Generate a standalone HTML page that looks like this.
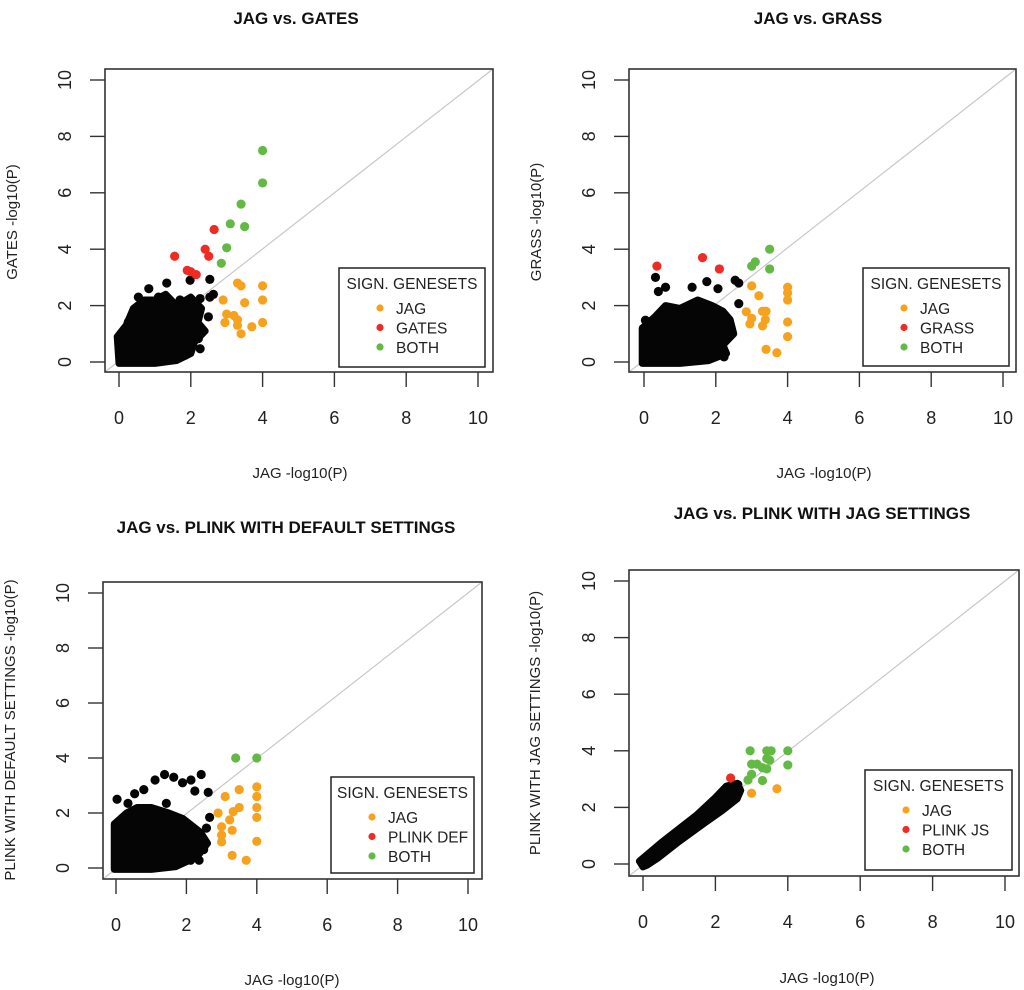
<!DOCTYPE html>
<html><head><meta charset="utf-8">
<style>
body{margin:0;background:#fff;}
svg{display:block;font-family:"Liberation Sans",Arial,sans-serif;}
</style></head>
<body>
<svg id="chart" width="1024" height="990" viewBox="0 0 1024 990" xmlns="http://www.w3.org/2000/svg"></svg>
<script>
// ---------- Data ----------
const xTicks = [0, 2, 4, 6, 8, 10];
const yTicks = [0, 2, 4, 6, 8, 10];
const legendLabels = ["JAG", "GATES", "GRASS", "PLINK DEF", "PLINK JS", "BOTH"];

// Panel 1: JAG vs GATES
const p1Orange = [[3.3,2.8],[3.4,2.7],[4,2.7],[2.9,2.2],[4,2.2],[3.5,2.1],[3.0,1.7],[3.2,1.65],[2.95,1.4],[3.3,1.5],[3.3,1.3],[3.7,1.25],[4,1.4],[3.4,1.0]];
const p1Red = [[1.55,3.75],[2.4,4.0],[2.5,3.75],[2.65,4.7],[1.9,3.25],[2.0,3.2],[2.15,3.1]];
const p1Green = [[4,7.5],[4,6.35],[3.4,5.6],[3.1,4.9],[3.5,4.8],[3.0,4.05],[2.85,3.5]];
const p1Black = [[2.53,2.93],[1.98,2.9],[1.33,2.8],[0.83,2.6],[0.54,2.3],[1.1,2.3],[2.26,2.25],[2.53,2.3],[2.63,2.4],[2.49,1.6],[2.21,0.83],[2.26,0.47],[1.84,0.24],[0.26,1.42],[1.7,2.2],[1.5,1.6]];
const p1Cloud = [[0,-0.05],[-0.05,0.9],[0.2,1.3],[0.4,1.9],[0.7,2.2],[1.0,2.2],[1.3,2.4],[1.6,2.0],[2.0,2.3],[2.3,1.9],[2.2,1.4],[2.4,1.1],[2.1,0.7],[2.0,0.3],[1.6,0.05],[1.0,-0.05]];

// Panel 2: JAG vs GRASS
const p2Orange = [[3.0,2.7],[3.2,2.35],[4,2.65],[4,2.45],[4,2.2],[2.85,1.78],[3.0,1.55],[2.95,1.35],[3.3,1.8],[3.4,1.8],[3.38,1.5],[3.3,1.28],[4,1.42],[4,0.9],[3.4,0.45],[3.7,0.33]];
const p2Red = [[0.36,3.4],[1.63,3.7],[2.1,3.3]];
const p2Green = [[3.5,4.0],[3.1,3.55],[3.0,3.4],[3.5,3.3]];
const p2Black = [[0.32,3.0],[0.4,2.5],[0.6,2.65],[1.34,2.65],[1.75,2.85],[2.06,2.6],[2.54,2.9],[2.64,2.8],[2.64,2.07],[2.27,1.48],[2.16,0.53],[2.23,0.18],[0.04,1.48]];
const p2Cloud = [[-0.05,-0.05],[-0.05,1.2],[0.3,1.6],[0.6,2.0],[1.0,1.9],[1.5,2.2],[1.9,2.0],[2.2,1.8],[2.4,1.5],[2.5,1.0],[2.2,0.6],[2.3,0.3],[1.8,0.05],[1.0,-0.05]];

// Panel 3: JAG vs PLINK default
const p3Orange = [[3.5,2.85],[4,2.95],[4,2.6],[3.1,2.6],[4,2.2],[3.5,2.2],[3.33,2.05],[2.9,2.0],[3.23,1.75],[4,1.84],[3.0,1.5],[3.0,1.2],[3.3,1.37],[3.0,0.95],[4,0.97],[3.3,0.46],[3.7,0.28]];
const p3Red = [];
const p3Green = [[3.4,4.0],[4,4.0]];
const p3Black = [[2.42,3.4],[1.38,3.4],[1.64,3.3],[1.11,3.2],[1.89,3.1],[2.13,3.2],[0.79,2.85],[0.53,2.7],[0.03,2.5],[2.24,2.8],[2.62,2.75],[2.66,1.84],[2.57,1.45],[2.49,0.67],[2.12,0.28],[2.36,0.28],[0.34,2.35],[1.43,2.35]];
const p3Cloud = [[-0.05,-0.05],[-0.05,1.6],[0.3,2.0],[0.6,2.2],[1.0,2.2],[1.5,2.0],[1.9,1.8],[2.4,1.3],[2.6,0.9],[2.3,0.4],[1.7,0.05],[1.0,-0.05]];

// Panel 4: JAG vs PLINK JAG settings
const p4Orange = [[3.0,2.5],[3.7,2.66]];
const p4Red = [[2.42,3.04]];
const p4Green = [[2.96,4.0],[3.42,4.0],[3.54,4.0],[4,4.0],[3.42,3.73],[3.5,3.67],[3.0,3.53],[3.15,3.53],[4,3.5],[3.3,3.4],[3.42,3.36],[3.0,3.17],[2.9,2.97],[3.3,2.95]];
const p4Black = [[2.62,2.8],[2.3,2.1]];
const p4Cloud = [[0,-0.1],[-0.1,0.1],[0.5,0.75],[1.0,1.25],[1.5,1.75],[2.0,2.35],[2.3,2.75],[2.6,2.85],[2.7,2.6],[2.6,2.3],[2.3,2.0],[2.2,1.9],[1.7,1.45],[1.0,0.8],[0.4,0.2],[0.1,-0.05]];

// ---------- Layout ----------
const panels = [
 {id:"gates", title:"JAG vs. GATES", tx:296, ty:18, box:[105,69,493,372], x0:119,x10:478,y0:362,y10:80,
  ylab:"GATES -log10(P)", ylx:12, yly:222, xlx:300, xly:473, leg:[339,268,485,367], red:"GATES",
  o:p1Orange,r:p1Red,g:p1Green,b:p1Black,c:p1Cloud},
 {id:"grass", title:"JAG vs. GRASS", tx:818, ty:18, box:[629,69,1016,372], x0:644,x10:1003,y0:362,y10:80,
  ylab:"GRASS -log10(P)", ylx:536, yly:222, xlx:824, xly:473, leg:[863,268,1009,366], red:"GRASS",
  o:p2Orange,r:p2Red,g:p2Green,b:p2Black,c:p2Cloud},
 {id:"plink-default", title:"JAG vs. PLINK WITH DEFAULT SETTINGS", tx:286, ty:527, box:[103,582,482,879], x0:116,x10:468,y0:868,y10:593,
  ylab:"PLINK WITH DEFAULT SETTINGS -log10(P)", ylx:10, yly:730, xlx:292, xly:980, leg:[331,777,474,873], red:"PLINK DEF",
  o:p3Orange,r:p3Red,g:p3Green,b:p3Black,c:p3Cloud},
 {id:"plink-jag", title:"JAG vs. PLINK WITH JAG SETTINGS", tx:822, ty:513, box:[629,570,1019,876], x0:643,x10:1005,y0:864,y10:581,
  ylab:"PLINK WITH JAG SETTINGS -log10(P)", ylx:535, yly:723, xlx:827, xly:978, leg:[865,770,1012,870], red:"PLINK JS",
  o:p4Orange,r:p4Red,g:p4Green,b:p4Black,c:p4Cloud}
];

const NS="http://www.w3.org/2000/svg";
const svg=document.getElementById("chart");
function mk(tag,attrs,parent){const e=document.createElementNS(NS,tag);for(const k in attrs)e.setAttribute(k,attrs[k]);(parent||svg).appendChild(e);return e;}
const ORANGE="#f7a21e", RED="#ee2c24", GREEN="#62ba44";

panels.forEach(p=>{
  const g=mk("g",{});
  
  
  const sx=v=>p.x0+(p.x10-p.x0)*v/10;
  const sy=v=>p.y0+(p.y10-p.y0)*v/10;
  const [bx1,by1,bx2,by2]=p.box;

  const t=mk("text",{x:p.tx,y:p.ty+6,"text-anchor":"middle","font-size":"17","font-weight":"bold",fill:"#111"},g);
  t.textContent=p.title;
  
  

  const diag=mk("line",{x1:bx1,y1:by2,x2:bx2,y2:by1,stroke:"#c8c8c8","stroke-width":"1.2"},g);
  
  

  const cl=mk("polygon",{points:p.c.map(d=>sx(d[0])+","+sy(d[1])).join(" "),fill:"#050505",stroke:"#050505","stroke-width":"7","stroke-linejoin":"round"},g);
  
  

  const drawPts=(arr,col,name)=>arr.forEach(d=>{
    const c=mk("circle",{cx:sx(d[0]),cy:sy(d[1]),r:4.6,fill:col},g);
    
    
  });
  drawPts(p.b,"#050505","point-other");
  drawPts(p.o,ORANGE,"point-jag");
  drawPts(p.r,RED,"point-"+p.id);
  drawPts(p.g,GREEN,"point-both");

  const box=mk("rect",{x:bx1,y:by1,width:bx2-bx1,height:by2-by1,fill:"none",stroke:"#333","stroke-width":"1.6"},g);
  
  

  xTicks.forEach(v=>{
    const l=mk("line",{x1:sx(v),y1:by2,x2:sx(v),y2:by2+15,stroke:"#333","stroke-width":"1.4"},g);
    
    
    const tt=mk("text",{x:sx(v),y:by2+52,"text-anchor":"middle","font-size":"18",fill:"#222"},g);
    tt.textContent=v;
    
    
  });
  yTicks.forEach(v=>{
    const l=mk("line",{x1:bx1,y1:sy(v),x2:bx1-15,y2:sy(v),stroke:"#333","stroke-width":"1.4"},g);
    
    
    const tt=mk("text",{x:0,y:0,"text-anchor":"middle","font-size":"18",fill:"#222",transform:`translate(${bx1-34},${sy(v)}) rotate(-90)`},g);
    tt.textContent=v;
    
    
  });
  const xl=mk("text",{x:p.xlx,y:p.xly+5,"text-anchor":"middle","font-size":"15",fill:"#222"},g);
  xl.textContent="JAG -log10(P)";
  
  
  const yl=mk("text",{x:0,y:0,"text-anchor":"middle","font-size":"15",fill:"#222",transform:`translate(${p.ylx+5},${p.yly}) rotate(-90)`},g);
  yl.textContent=p.ylab;
  
  

  const [lx1,ly1,lx2,ly2]=p.leg;
  const lg=mk("g",{},g);
  
  
  mk("rect",{x:lx1,y:ly1,width:lx2-lx1,height:ly2-ly1,fill:"#fff",stroke:"#222","stroke-width":"1.5"},lg);
  const lt=mk("text",{x:(lx1+lx2)/2,y:ly1+21,"text-anchor":"middle","font-size":"15.5",fill:"#222"},lg);
  lt.textContent="SIGN. GENESETS";
  
  
  const entries=[[legendLabels[0],ORANGE],[p.red,RED],[legendLabels[5],GREEN]];
  entries.forEach((e,i)=>{
    const yy=ly1+40+i*19.5;
    const c=mk("circle",{cx:lx1+41,cy:yy,r:3.6,fill:e[1]},lg);
    
    
    const tx=mk("text",{x:lx1+57,y:yy+6,"font-size":"15.5",fill:"#222"},lg);
    tx.textContent=e[0];
    
    
  });
});
</script>
</body></html>
